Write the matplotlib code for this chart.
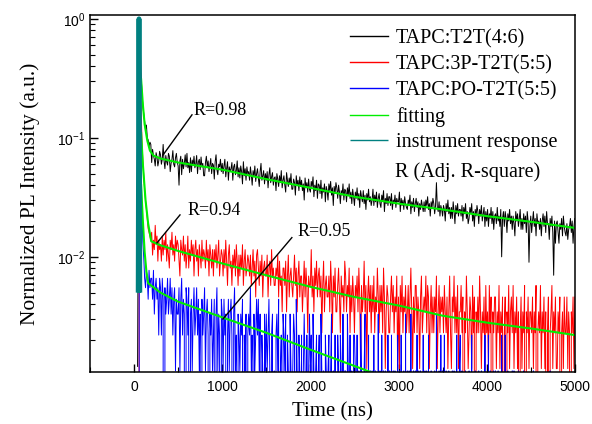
import numpy as np
import matplotlib
matplotlib.use("Agg")
import matplotlib.pyplot as plt
from matplotlib.ticker import LogLocator, MultipleLocator, NullFormatter

plt.rcParams['font.family'] = ['Liberation Sans', 'DejaVu Sans']
plt.rcParams['mathtext.fontset'] = 'custom'
plt.rcParams['mathtext.rm'] = 'Liberation Sans'
plt.rcParams['mathtext.it'] = 'Liberation Sans:italic'
plt.rcParams['mathtext.bf'] = 'Liberation Sans:bold'

serif = ['Liberation Serif', 'DejaVu Serif']

# decay channels, 10 ns apart (100 ... 5000 ns)
t_decay = np.arange(100, 5001, 10)

# rising edge / peak
t_rise_black = [40, 55, 60, 70, 80, 90]
black_rise = [1.2, 500, 1000, 600, 330, 240]
t_rise_red = [50, 57, 62, 70, 80, 90]
red_rise = [0, 435, 870, 300, 150, 80]
t_rise_blue = [50, 58, 63, 70, 80, 90]
blue_rise = [0, 450, 909, 200, 60, 20]

# counts after the peak, one row = 100 ns (black peak = 1000)
black_counts = [
    185, 160, 140, 118, 128, 100, 96, 84, 92, 88,
    62, 80, 71, 66, 58, 75, 69, 58, 64, 77,
    72, 60, 66, 88, 64, 55, 71, 63, 59, 74,
    70, 52, 61, 66, 78, 60, 57, 68, 74, 62,
    58, 40, 64, 70, 49, 66, 55, 61, 72, 57,
    74, 56, 62, 51, 68, 52, 65, 59, 70, 56,
    60, 71, 50, 63, 66, 54, 69, 57, 61, 48,
    48, 62, 70, 57, 64, 52, 59, 67, 50, 61,
    59, 45, 63, 72, 54, 49, 60, 57, 66, 52,
    61, 50, 58, 66, 47, 55, 63, 44, 57, 52,
    55, 62, 44, 57, 60, 49, 53, 64, 47, 56,
    46, 58, 52, 41, 63, 48, 55, 44, 57, 50,
    52, 44, 57, 49, 40, 53, 47, 58, 43, 50,
    55, 46, 39, 52, 61, 44, 48, 53, 41, 50,
    44, 52, 38, 49, 56, 42, 47, 51, 40, 46,
    47, 36, 50, 45, 39, 48, 42, 53, 38, 44,
    48, 40, 35, 51, 44, 39, 46, 41, 50, 37,
    37, 45, 42, 33, 48, 40, 44, 36, 47, 39,
    44, 36, 41, 30, 46, 38, 42, 35, 45, 37,
    35, 43, 39, 47, 32, 40, 36, 44, 31, 41,
    40, 34, 44, 31, 38, 35, 41, 29, 39, 36,
    30, 41, 36, 43, 33, 38, 27, 39, 34, 42,
    38, 31, 40, 35, 28, 36, 33, 41, 30, 37,
    36, 29, 38, 33, 41, 31, 35, 28, 37, 32,
    27, 35, 31, 38, 30, 34, 26, 36, 32, 29,
    36, 28, 33, 25, 34, 30, 37, 29, 32, 27,
    30, 37, 27, 33, 29, 35, 26, 31, 34, 28,
    26, 33, 30, 36, 24, 31, 28, 34, 27, 32,
    32, 27, 34, 25, 30, 28, 33, 26, 31, 29,
    29, 35, 24, 31, 27, 30, 25, 32, 28, 26,
    25, 30, 28, 33, 23, 29, 26, 31, 24, 28,
    31, 26, 29, 22, 28, 25, 30, 27, 24, 29,
    24, 30, 27, 32, 25, 28, 22, 29, 26, 31,
    28, 23, 27, 42, 26, 24, 29, 22, 27, 25,
    22, 27, 25, 20, 28, 24, 30, 23, 26, 21,
    26, 21, 29, 24, 19, 27, 23, 28, 22, 25,
    25, 22, 27, 20, 26, 23, 28, 21, 24, 19,
    21, 26, 23, 28, 20, 24, 18, 25, 22, 27,
    24, 19, 25, 22, 27, 20, 23, 26, 18, 24,
    20, 25, 18, 23, 21, 26, 19, 24, 17, 22,
    23, 19, 26, 20, 22, 18, 25, 10, 21, 24,
    18, 24, 21, 16, 23, 20, 25, 19, 22, 17,
    22, 19, 15, 24, 20, 23, 18, 21, 25, 17,
    21, 17, 23, 19, 22, 16, 24, 20, 9, 18,
    22, 16, 20, 24, 18, 21, 15, 23, 19, 20,
    17, 21, 15, 20, 23, 18, 22, 16, 24, 19,
    19, 14, 21, 18, 22, 16, 7, 20, 13, 19,
    20, 16, 13, 19, 17, 21, 15, 22, 18, 16,
    15, 19, 14, 17, 18, 21, 16, 20, 13, 18,
    21,
]
black_peak = 1000

red_counts = [
    55, 42, 32, 26, 22, 18, 15, 14, 13, 12,
    14, 9, 12, 10, 16, 11, 13, 8, 12, 10,
    11, 8, 13, 9, 12, 10, 14, 8, 11, 9,
    7, 12, 10, 14, 9, 11, 8, 13, 10, 12,
    11, 8, 6, 12, 10, 9, 13, 8, 11, 7,
    9, 13, 7, 10, 8, 12, 9, 11, 6, 10,
    12, 8, 10, 6, 11, 9, 7, 12, 8, 10,
    9, 7, 12, 8, 10, 6, 11, 9, 7, 10,
    6, 10, 8, 11, 7, 9, 12, 6, 8, 10,
    9, 6, 10, 7, 12, 8, 5, 9, 11, 7,
    8, 5, 9, 7, 10, 6, 11, 8, 5, 9,
    6, 9, 7, 11, 5, 8, 10, 6, 7, 9,
    8, 6, 9, 5, 7, 10, 6, 8, 4, 9,
    10, 7, 5, 8, 6, 9, 4, 7, 8, 6,
    6, 9, 4, 7, 8, 5, 10, 6, 7, 5,
    5, 7, 6, 9, 4, 8, 5, 6, 3, 7,
    7, 5, 8, 3, 6, 9, 4, 6, 7, 5,
    4, 6, 9, 5, 7, 3, 6, 8, 4, 6,
    6, 3, 5, 8, 4, 7, 5, 2, 6, 5,
    5, 10, 4, 6, 3, 7, 5, 8, 4, 6,
    7, 4, 6, 2, 5, 8, 3, 5, 6, 4,
    4, 6, 3, 8, 5, 2, 6, 4, 7, 3,
    3, 5, 7, 4, 2, 6, 4, 5, 3, 8,
    6, 3, 5, 4, 7, 2, 5, 3, 6, 4,
    2, 5, 4, 6, 3, 7, 4, 1, 5, 3,
    4, 8, 3, 5, 1, 4, 6, 3, 5, 2,
    5, 3, 6, 2, 4, 3, 7, 4, 2, 5,
    3, 5, 2, 7, 4, 1, 3, 5, 4, 2,
    2, 4, 6, 3, 5, 2, 4, 3, 6, 1,
    4, 1, 5, 3, 6, 2, 4, 3, 5, 2,
    3, 5, 2, 4, 7, 3, 1, 4, 2, 5,
    5, 2, 4, 3, 1, 4, 6, 2, 3, 4,
    3, 6, 2, 5, 4, 1, 3, 5, 2, 4,
    2, 4, 3, 6, 1, 3, 5, 2, 4, 3,
    4, 2, 5, 3, 2, 4, 1, 3, 6, 2,
    1, 4, 3, 6, 2, 4, 2, 5, 1, 3,
    3, 5, 2, 4, 0, 3, 2, 6, 3, 1,
    2, 4, 3, 1, 5, 2, 4, 0, 3, 2,
    4, 2, 6, 3, 1, 3, 2, 4, 1, 5,
    2, 3, 1, 5, 2, 4, 0, 3, 2, 4,
    4, 1, 3, 2, 5, 1, 3, 2, 4, 0,
    2, 4, 0, 3, 2, 5, 1, 3, 4, 2,
    5, 1, 3, 2, 4, 1, 3, 0, 2, 4,
    1, 3, 2, 5, 0, 3, 2, 4, 1, 3,
    3, 2, 4, 1, 3, 2, 5, 0, 2, 3,
    2, 5, 1, 3, 2, 4, 1, 3, 0, 2,
    4, 0, 2, 3, 5, 1, 3, 2, 4, 1,
    1, 3, 2, 4, 0, 2, 3, 1, 4, 2,
    2, 4, 1, 3, 2, 0, 3, 2, 4, 1,
    4,
]
red_peak = 870

blue_counts = [
    12, 9, 6, 5, 7, 6, 4, 7, 5, 6,
    6, 4, 7, 3, 5, 6, 4, 5, 2, 6,
    5, 2, 6, 4, 0, 5, 3, 4, 6, 3,
    4, 6, 3, 5, 2, 4, 5, 1, 4, 3,
    3, 5, 1, 4, 6, 2, 4, 3, 0, 5,
    4, 2, 5, 0, 3, 4, 1, 3, 5, 2,
    3, 5, 2, 4, 1, 3, 0, 4, 2, 3,
    5, 1, 3, 4, 2, 0, 3, 2, 4, 1,
    2, 4, 0, 3, 5, 1, 3, 2, 0, 4,
    3, 1, 4, 2, 3, 0, 2, 4, 1, 3,
    4, 2, 0, 3, 5, 1, 2, 0, 3, 2,
    1, 3, 2, 4, 0, 2, 1, 3, 0, 2,
    3, 2, 5, 1, 2, 0, 3, 1, 2, 4,
    2, 4, 1, 3, 0, 2, 1, 0, 3, 1,
    3, 1, 2, 4, 1, 0, 2, 3, 0, 1,
    0, 2, 3, 1, 4, 0, 1, 2, 0, 3,
    2, 1, 3, 0, 2, 1, 0, 3, 1, 0,
    1, 3, 2, 0, 4, 1, 0, 2, 1, 0,
    2, 0, 1, 3, 1, 0, 2, 0, 1, 3,
    1, 2, 0, 3, 1, 0, 1, 2, 0, 1,
    2, 0, 3, 1, 0, 1, 0, 2, 1, 0,
    1, 2, 0, 1, 3, 0, 1, 0, 2, 0,
    0, 2, 1, 0, 2, 1, 0, 3, 0, 1,
    1, 0, 3, 1, 0, 2, 0, 1, 0, 2,
    2, 1, 0, 2, 0, 1, 0, 3, 1, 0,
    0, 1, 3, 0, 1, 0, 2, 0, 1, 0,
    1, 0, 2, 0, 1, 0, 0, 3, 0, 1,
    0, 2, 0, 1, 0, 1, 0, 0, 2, 0,
    1, 0, 2, 0, 1, 0, 1, 0, 0, 2,
    0, 1, 0, 2, 0, 0, 1, 0, 3, 0,
    1, 0, 1, 0, 3, 0, 0, 1, 0, 1,
    0, 2, 0, 1, 0, 1, 0, 0, 2, 0,
    1, 0, 1, 0, 2, 0, 0, 1, 0, 0,
    0, 1, 0, 3, 0, 0, 1, 0, 2, 0,
    1, 0, 2, 0, 1, 0, 0, 1, 0, 0,
    0, 1, 0, 1, 0, 0, 2, 0, 0, 1,
    2, 0, 1, 0, 0, 0, 1, 0, 0, 0,
    1, 0, 0, 2, 0, 0, 0, 1, 0, 0,
    0, 1, 0, 0, 1, 0, 0, 0, 2, 0,
    0, 0, 2, 0, 1, 0, 0, 0, 1, 0,
    1, 0, 0, 1, 0, 0, 0, 2, 0, 0,
    0, 2, 0, 0, 1, 0, 0, 0, 0, 1,
    0, 1, 0, 0, 0, 0, 1, 0, 0, 0,
    0, 0, 1, 0, 0, 0, 0, 0, 0, 0,
    0, 0, 0, 1, 0, 0, 0, 0, 0, 0,
    0, 0, 0, 0, 0, 0, 0, 0, 0, 0,
    0, 0, 1, 0, 0, 0, 0, 0, 0, 0,
    0, 0, 0, 0, 0, 0, 0, 0, 0, 0,
    0, 0, 0, 0, 0, 0, 0, 0, 0, 0,
    0,
]
blue_peak = 909

# instrument response
t_irf = [47, 52, 56, 60, 65]
irf = [0.005, 0.2, 1.0, 0.2, 0.005]

# fitted curves (sampled)
fit_black_t = [80, 100, 120, 150, 180, 220, 300, 500, 1000, 1500, 2000, 2500, 3000, 3500, 4000, 4500, 5000]
fit_black = [0.31, 0.19, 0.13, 0.095, 0.078, 0.071, 0.067, 0.062, 0.054, 0.045, 0.038, 0.032, 0.028, 0.025, 0.022, 0.0197, 0.0175]
fit_red_t = [80, 100, 130, 160, 195, 300, 500, 1000, 1500, 2000, 2500, 3000, 3500, 4000, 4500, 5000]
fit_red = [0.11, 0.06, 0.03, 0.019, 0.0135, 0.0125, 0.0112, 0.0088, 0.0070, 0.0056, 0.0046, 0.0039, 0.0032, 0.0028, 0.0025, 0.0022]
fit_blue_t = [80, 100, 120, 140, 160, 300, 500, 1000, 1500, 2000, 2500, 2800]
fit_blue = [0.04, 0.02, 0.011, 0.0075, 0.0060, 0.0050, 0.0042, 0.0031, 0.0023, 0.00166, 0.00121, 0.0010]

labels = ['TAPC:T2T(4:6)', 'TAPC:3P-T2T(5:5)', 'TAPC:PO-T2T(5:5)', 'fitting', 'instrument response']

black = np.array(black_rise + black_counts) / black_peak
red = np.array(red_rise + red_counts) / red_peak
blue = np.array(blue_rise + blue_counts) / blue_peak
tb = np.concatenate([t_rise_black, t_decay])
tr = np.concatenate([t_rise_red, t_decay])
tbl = np.concatenate([t_rise_blue, t_decay])

fig = plt.figure(figsize=(5.92, 4.24), dpi=100)
ax = fig.add_axes([0.152, 0.123, 0.819, 0.842])

ax.plot(tb, black, color='black', lw=0.7, label=labels[0])
ax.plot(tr, red, color='#ff0000', lw=0.7, label=labels[1])
ax.plot(tbl, blue, color='#0000ff', lw=0.7, label=labels[2])
ax.plot(fit_black_t, fit_black, color='#00ee00', lw=1.5, label=labels[3])
ax.plot(fit_red_t, fit_red, color='#00ee00', lw=1.5)
ax.plot(fit_blue_t, fit_blue, color='#00ee00', lw=1.5)
ax.plot(t_irf, irf, color='#008080', lw=3.5, solid_capstyle='butt', label=labels[4])

ax.set_yscale('log')
ax.set_xlim(-500, 5000)
ax.set_ylim(0.00108, 1.08)
ax.xaxis.set_major_locator(MultipleLocator(1000))
ax.xaxis.set_minor_locator(MultipleLocator(500))
ax.yaxis.set_major_locator(LogLocator(base=10))
ax.yaxis.set_minor_locator(LogLocator(base=10, subs=np.arange(2, 10)))
ax.yaxis.set_minor_formatter(NullFormatter())
ax.tick_params(which='both', direction='in', top=False, right=False, labelsize=10)
ax.tick_params(which='major', length=6, width=1)
ax.tick_params(which='minor', length=3.5, width=0.8)
ax.tick_params(axis='x', pad=6)
for s in ax.spines.values():
    s.set_linewidth(1.1)

ax.set_xlabel('Time (ns)', family=serif, fontsize=15, labelpad=6)
ax.set_ylabel('Normalized PL Intensity (a.u.)', family=serif, fontsize=15.5, labelpad=12)

# R annotations
ax.plot([330, 657], [0.072, 0.156], color='black', lw=1)
ax.text(680, 0.169, 'R=0.98', family=serif, fontsize=13, va='center')
ax.plot([260, 521], [0.0131, 0.0225], color='black', lw=1)
ax.text(610, 0.0244, 'R=0.94', family=serif, fontsize=13, va='center')
ax.plot([1008, 1790], [0.0030, 0.0145], color='black', lw=1)
ax.text(1857, 0.0162, 'R=0.95', family=serif, fontsize=13, va='center')

leg = ax.legend(loc='upper left', bbox_to_anchor=(0.536, 0.96), frameon=False,
                prop={'family': serif, 'size': 14.5}, borderpad=0, borderaxespad=0,
                handlelength=1.9, handletextpad=0.4, labelspacing=0.33)
for line in leg.get_lines():
    line.set_linewidth(1.0)
ax.text(0.629, 0.56, 'R (Adj. R-square)', transform=ax.transAxes, family=serif,
        fontsize=14.5, va='center')

fig.savefig('out.png', dpi=100)
